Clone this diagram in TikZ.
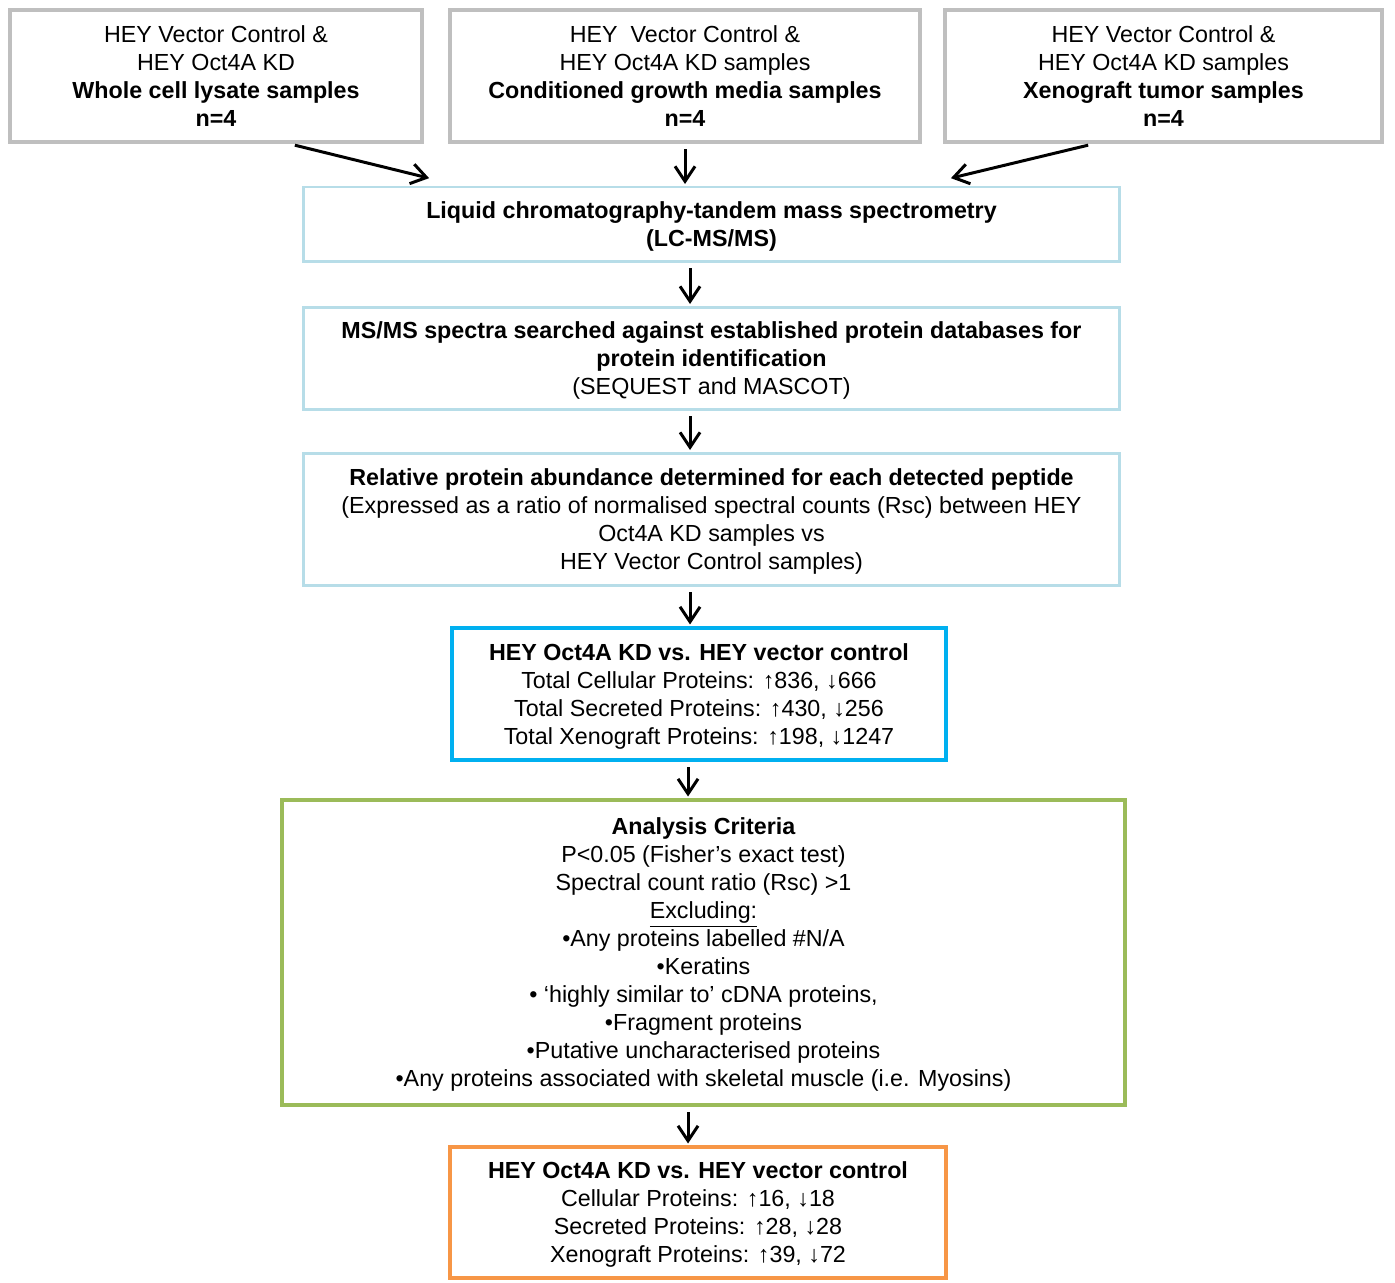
\documentclass[tikz,border=0pt]{standalone}
\usepackage{fontspec}
\setmainfont{Liberation Sans}
\usetikzlibrary{arrows.meta}

\definecolor{samplegray}{HTML}{BFBFBF}
\definecolor{paleblue}{HTML}{B7DDE8}
\definecolor{brightblue}{HTML}{00B0F0}
\definecolor{leafgreen}{HTML}{9BBB59}
\definecolor{sunorange}{HTML}{F79646}

\begin{document}
\begin{tikzpicture}[x=0.02cm, y=-0.02cm,
    every node/.style={align=center, inner sep=0pt, text depth=0pt, font=\fontsize{13.25pt}{15.94pt}\selectfont},
    sample/.style={draw=samplegray, line width=2.3pt, minimum height=2.64cm},
    process/.style={draw=paleblue, line width=1.7pt, minimum width=16.34cm},
    flow/.style={-{Straight Barb[length=3mm,width=4mm]}, line width=1.7pt, shorten <=1mm, shorten >=0.3mm}]
    \useasboundingbox (0,0) rectangle (1395,1283);

    % Sample sets
    \node[sample, minimum width=8.24cm] (wcl) at (216,76)
        {HEY Vector Control \&\\HEY Oct4A KD\\\textbf{Whole cell lysate samples}\\\textbf{n=4}};
    \node[sample, minimum width=9.4cm] (cgm) at (685,76)
        {HEY\ \ Vector Control \&\\HEY Oct4A KD samples\\\textbf{Conditioned growth media samples}\\\textbf{n=4}};
    \node[sample, minimum width=8.74cm] (xeno) at (1163.5,76)
        {HEY Vector Control \&\\HEY Oct4A KD samples\\\textbf{Xenograft tumor samples}\\\textbf{n=4}};

    % Processing steps
    \node[process, minimum height=1.5cm] (lc) at (711.5,224.5)
        {\textbf{Liquid chromatography-tandem mass spectrometry}\\\textbf{(LC-MS/MS)}};
    \node[process, minimum height=2.06cm] (ms) at (711.5,358.5)
        {\textbf{MS/MS spectra searched against established protein databases for}\\\textbf{protein identification}\\(SEQUEST and MASCOT)};
    \node[process, minimum height=2.66cm] (rel) at (711.5,519.5)
        {\textbf{Relative protein abundance determined for each detected peptide}\\(Expressed as a ratio of normalised spectral counts (Rsc) between HEY\\Oct4A KD samples vs\\HEY Vector Control samples)};

    % Totals
    \node[draw=brightblue, line width=2.3pt, minimum width=9.88cm, minimum height=2.64cm] (res) at (699,694)
        {\textbf{HEY Oct4A KD vs. HEY vector control}\\Total Cellular Proteins: ↑836, ↓666\\Total Secreted Proteins: ↑430, ↓256\\Total Xenograft Proteins: ↑198, ↓1247};

    % Analysis criteria
    \node[draw=leafgreen, line width=2.3pt, minimum width=16.86cm, minimum height=6.1cm] (crit) at (703.5,952.5)
        {\textbf{Analysis Criteria}\\P<0.05 (Fisher’s exact test)\\Spectral count ratio (Rsc) >1\\\underline{Excluding:}\\•Any proteins labelled \#N/A\\•Keratins\\• ‘highly similar to’ cDNA proteins,\\•Fragment proteins\\•Putative uncharacterised proteins\\•Any proteins associated with skeletal muscle (i.e. Myosins)};

    % Final counts
    \node[draw=sunorange, line width=2.3pt, minimum width=9.92cm, minimum height=2.62cm] (fin) at (698,1212.5)
        {\textbf{HEY Oct4A KD vs. HEY vector control}\\Cellular Proteins: ↑16, ↓18\\Secreted Proteins: ↑28, ↓28\\Xenograft Proteins: ↑39, ↓72};

    % Arrows
    \draw[flow] ([xshift=1.48cm]wcl.south) -- ([xshift=2.58cm, yshift=0.14cm]lc.north west);
    \draw[flow] (cgm.south) -- (cgm.south |- lc.north);
    \draw[flow] ([xshift=-1.41cm]xeno.south) -- ([xshift=-3.44cm, yshift=0.14cm]lc.north east);
    \draw[flow] ([xshift=-0.43cm]lc.south) -- ([xshift=-0.43cm]lc.south |- ms.north);
    \draw[flow] ([xshift=-0.43cm]ms.south) -- ([xshift=-0.43cm]ms.south |- rel.north);
    \draw[flow] ([xshift=-0.43cm]rel.south) -- ([xshift=-0.43cm]rel.south |- res.north);
    \draw[flow] ([xshift=-0.22cm]res.south) -- ([xshift=-0.22cm]res.south |- crit.north);
    \draw[flow] ([xshift=-0.2cm]fin.north |- crit.south) -- ([xshift=-0.2cm]fin.north);
\end{tikzpicture}
\end{document}
